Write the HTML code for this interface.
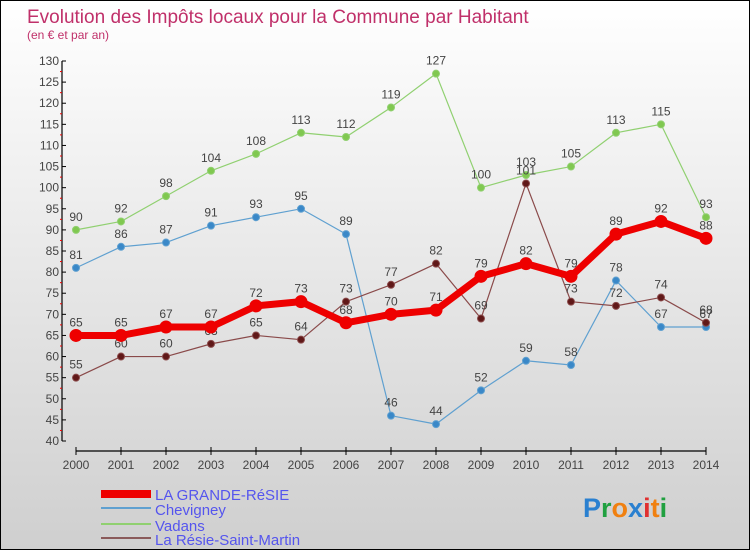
<!DOCTYPE html>
<html><head><meta charset="utf-8"><style>
body{margin:0}
#wrap{width:748px;height:548px;border:1px solid #000;background:linear-gradient(#fff,#cfcfcf);position:relative;font-family:"Liberation Sans",sans-serif}
</style></head><body>
<div id="wrap">
<svg id="svg" width="748" height="548" style="position:absolute;left:0;top:0">
<text x="26" y="22" font-size="19" fill="#c0306a">Evolution des Impôts locaux pour la Commune par Habitant</text>
<text x="26" y="38" font-size="12" fill="#c0306a">(en € et par an)</text>
<g id="axes"></g><g id="series"></g>
<g>
<rect x="100" y="489" width="50" height="8" fill="#e00"/>
<text x="154" y="499" font-size="15" fill="#5555ee">LA GRANDE-RéSIE</text>
<rect x="100" y="506" width="50" height="2" fill="#5fa0d0"/>
<text x="154" y="514" font-size="15" fill="#5555ee">Chevigney</text>
<rect x="100" y="522" width="50" height="2" fill="#90d070"/>
<text x="154" y="530" font-size="15" fill="#5555ee">Vadans</text>
<rect x="100" y="536" width="50" height="2" fill="#8a5a5a"/>
<text x="154" y="544" font-size="15" fill="#5555ee">La Résie-Saint-Martin</text>
</g>
<text x="582" y="516" font-size="27" font-weight="bold"><tspan fill="#2a80d0">P</tspan><tspan fill="#20a040">r</tspan><tspan fill="#f08010">o</tspan><tspan fill="#2a80d0">x</tspan><tspan fill="#e03030">i</tspan><tspan fill="#f08010">t</tspan><tspan fill="#20a040">i</tspan></text>
</svg>
</div>
<script>
const years=[2000,2001,2002,2003,2004,2005,2006,2007,2008,2009,2010,2011,2012,2013,2014];
const yTicks=[40,45,50,55,60,65,70,75,80,85,90,95,100,105,110,115,120,125,130];
const grande=[65,65,67,67,72,73,68,70,71,79,82,79,89,92,88];
const chevigney=[81,86,87,91,93,95,89,46,44,52,59,58,78,67,67];
const vadans=[90,92,98,104,108,113,112,119,127,100,103,105,113,115,93];
const resie=[55,60,60,63,65,64,73,77,82,69,101,73,72,74,68];
const NS="http://www.w3.org/2000/svg";
function X(i){return 75+i*45;}
function Y(v){return 440-(v-40)*(380/90);}
function mk(tag,attrs,parent){const e=document.createElementNS(NS,tag);for(const k in attrs)e.setAttribute(k,attrs[k]);parent.appendChild(e);return e;}
const ax=document.getElementById('axes');
mk('line',{x1:61,y1:Y(130),x2:61,y2:Y(40),stroke:'#000','stroke-width':1.2},ax);
yTicks.forEach(v=>{
 mk('line',{x1:61,y1:Y(v),x2:65,y2:Y(v),stroke:'#000'},ax);
 if(v<130)mk('line',{x1:59,y1:Y(v+2.5),x2:61,y2:Y(v+2.5),stroke:'#e00'},ax);
 const t=mk('text',{x:58,y:Y(v)+4,'font-size':12,fill:'#444','text-anchor':'end'},ax);
 
 
 t.textContent=v;
});
mk('line',{x1:X(0),y1:450,x2:X(14),y2:450,stroke:'#000','stroke-width':1.2},ax);
years.forEach((yr,i)=>{
 mk('line',{x1:X(i),y1:446,x2:X(i),y2:454,stroke:'#000'},ax);
 const t=mk('text',{x:X(i),y:468,'font-size':12,fill:'#444','text-anchor':'middle'},ax);
 
 
 t.textContent=yr;
});
const sg=document.getElementById('series');
function draw(vals,color,w,r,dot,name){
 const g=mk('g',{},sg);
 
 
 mk('polyline',{points:vals.map((v,i)=>X(i)+','+Y(v)).join(' '),fill:'none',stroke:color,'stroke-width':w,'stroke-linejoin':'round'},g);
 vals.forEach((v,i)=>{
  const c=mk('circle',{cx:X(i),cy:Y(v),r:r,fill:dot,stroke:color,'stroke-width':1},g);
  
  
  const t=mk('text',{x:X(i),y:Y(v)-9,'font-size':12,fill:'#444','text-anchor':'middle'},g);
  
  
  t.textContent=v;
 });
}
draw(vadans,'#90d070',1.2,3.5,'#80c850','vadans');
draw(chevigney,'#5fa0d0',1.2,3.5,'#3a88c8','chevigney');
draw(resie,'#8a4a4a',1.2,3.5,'#601818','resie-saint-martin');
draw(grande,'#ee0000',7,6,'#ee0000','grande-resie');
</script>
</body></html>
